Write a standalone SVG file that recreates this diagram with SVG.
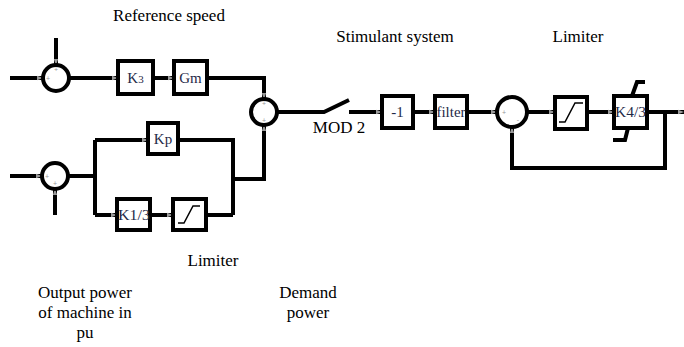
<svg xmlns="http://www.w3.org/2000/svg" width="684" height="347" viewBox="0 0 684 347">
<style>
.ln{fill:none;stroke:#000;stroke-width:4;}
.bx{fill:#fff;stroke:#000;stroke-width:4;}
.cr{fill:#fff;stroke:#000;stroke-width:4;}
.thin{fill:none;stroke:#000;stroke-width:1.5;}
.lbl{font-family:"Liberation Serif","Times New Roman",serif;font-size:17px;fill:#000;text-anchor:middle;}
.bt{font-family:"Liberation Serif","Times New Roman",serif;font-size:15px;fill:#1f2a48;text-anchor:middle;}
.sg{font-family:"Liberation Sans",Arial,sans-serif;font-size:7px;fill:#999;text-anchor:middle;}
</style>
<defs>
<marker id="ar" markerWidth="6" markerHeight="6" refX="6" refY="3" orient="auto" markerUnits="userSpaceOnUse">
<path d="M0,0.8 L6,3 L0,5.2 Z" fill="#9a9a9a"/>
</marker>
</defs>
<rect width="684" height="347" fill="#fff"/>
<g id="connectors">
<path class="ln" d="M56,38 V65" marker-end="url(#ar)"/>
<path class="ln" d="M10,78 H43" marker-end="url(#ar)"/>
<path class="ln" d="M69,78 H118" marker-end="url(#ar)"/>
<path class="ln" d="M153,78 H174" marker-end="url(#ar)"/>
<path class="ln" d="M207,78 H264 V99" marker-end="url(#ar)"/>
<path class="ln" d="M10,176 H42" marker-end="url(#ar)"/>
<path class="ln" d="M55,215 V189" marker-end="url(#ar)"/>
<path class="ln" d="M68,176 H95"/>
<path class="ln" d="M95,140 V215"/>
<path class="ln" d="M95,140 H148" marker-end="url(#ar)"/>
<path class="ln" d="M95,215 H117" marker-end="url(#ar)"/>
<path class="ln" d="M150,215 H173" marker-end="url(#ar)"/>
<path class="ln" d="M206,215 H233"/>
<path class="ln" d="M178,140 H233 V215"/>
<path class="ln" d="M233,179 H264 V125" marker-end="url(#ar)"/>
<path class="ln" d="M277,112 H324 L349,100"/>
<path class="ln" d="M349,112 H382" marker-end="url(#ar)"/>
<path class="ln" d="M413,112 H435" marker-end="url(#ar)"/>
<path class="ln" d="M467,112 H497" marker-end="url(#ar)"/>
<path class="ln" d="M527,112 H555" marker-end="url(#ar)"/>
<path class="ln" d="M587,112 H614" marker-end="url(#ar)"/>
<path class="ln" d="M647,112 H684" marker-end="url(#ar)"/>
<path class="ln" d="M665,112 V168 H512 V127" marker-end="url(#ar)"/>
</g>
<g id="sum1"><circle class="cr" cx="56" cy="78" r="13"/><text class="sg" x="48" y="81">+</text><text class="sg" x="56" y="72">+</text></g>
<g id="sum2"><circle class="cr" cx="55" cy="176" r="13"/><text class="sg" x="47" y="179">+</text><text class="sg" x="55" y="186">+</text></g>
<g id="sum3"><circle class="cr" cx="264" cy="112" r="13"/><text class="sg" x="264" y="106">+</text><text class="sg" x="264" y="123">+</text></g>
<g id="sum4"><circle class="cr" cx="512" cy="112" r="15"/><text class="sg" x="504" y="115">+</text><text class="sg" x="518" y="122">-</text></g>
<g id="k3"><rect class="bx" x="118" y="61" width="35" height="33"/><text class="bt" x="135.5" y="83">K<tspan font-size="11">3</tspan></text></g>
<g id="gm"><rect class="bx" x="174" y="61" width="33" height="33"/><text class="bt" x="190.5" y="83">Gm</text></g>
<g id="kp"><rect class="bx" x="148" y="123" width="30" height="31"/><text class="bt" x="163" y="144">Kp</text></g>
<g id="k13"><rect class="bx" x="117" y="199" width="33" height="31"/><text class="bt" x="134" y="220" textLength="32" lengthAdjust="spacingAndGlyphs">K1/3</text></g>
<g id="lim1"><rect class="bx" x="173" y="199" width="33" height="31"/><path class="thin" d="M178,223 H184 L193,206 H200"/></g>
<g id="neg"><rect class="bx" x="382" y="96" width="31" height="32"/><text class="bt" x="397.5" y="117">-1</text></g>
<g id="filter"><rect class="bx" x="435" y="96" width="32" height="32"/><text class="bt" x="451" y="117" textLength="29" lengthAdjust="spacingAndGlyphs">filter</text></g>
<g id="lim2"><rect class="bx" x="555" y="97" width="32" height="32"/><path class="thin" d="M559,122 H565 L575,103 H583"/></g>
<g id="k43"><rect class="bx" x="614" y="96" width="33" height="32"/><text class="bt" x="630.5" y="117" textLength="31" lengthAdjust="spacingAndGlyphs">K4/3</text><path class="ln" stroke-width="3" d="M632,96 L637,82 H645"/><path class="ln" stroke-width="3" d="M628,128 L625,140 H613"/></g>
<g id="labels">
<text class="lbl" x="169" y="21">Reference speed</text>
<text class="lbl" x="395" y="42">Stimulant system</text>
<text class="lbl" x="578" y="42">Limiter</text>
<text class="lbl" x="339" y="133" font-size="14">MOD 2</text>
<text class="lbl" x="213" y="266">Limiter</text>
<text class="lbl" x="85" y="298">Output power</text>
<text class="lbl" x="85" y="318">of machine in</text>
<text class="lbl" x="85" y="338">pu</text>
<text class="lbl" x="308" y="298">Demand</text>
<text class="lbl" x="308" y="318">power</text>
</g>
</svg>
